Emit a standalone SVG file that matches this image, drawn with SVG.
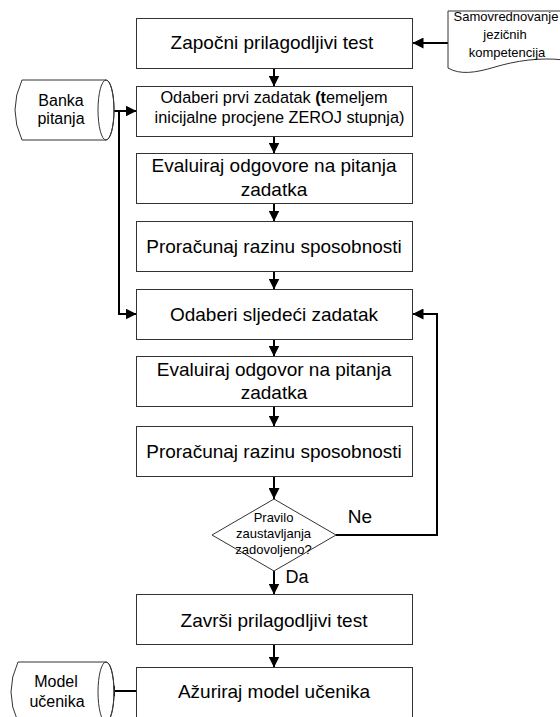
<svg xmlns="http://www.w3.org/2000/svg" width="560" height="717" viewBox="0 0 560 717">
<defs>
<style>
.box{fill:#fff;stroke:#333;stroke-width:1}
.t{font-family:"Liberation Sans",Arial,sans-serif;fill:#000;text-anchor:middle}
.big{font-size:19px}
.mid{font-size:16.3px}
.sm{font-size:16px}
.xs{font-size:13px}
.con{fill:none;stroke:#000;stroke-width:2}
</style>
<marker id="ah" viewBox="0 0 10 10" refX="10" refY="5" markerWidth="11" markerHeight="11" markerUnits="userSpaceOnUse" orient="auto">
<path d="M0,0 L10,5 L0,10 Z" fill="#000"/>
</marker>
</defs>
<rect width="560" height="717" fill="#fff"/>

<g id="connectors">
<line class="con" x1="274" y1="68.5" x2="274" y2="86.5" marker-end="url(#ah)"/>
<line class="con" x1="274" y1="136.5" x2="274" y2="153.5" marker-end="url(#ah)"/>
<line class="con" x1="274" y1="203.5" x2="274" y2="221.5" marker-end="url(#ah)"/>
<line class="con" x1="274" y1="271.5" x2="274" y2="289.5" marker-end="url(#ah)"/>
<line class="con" x1="274" y1="339.5" x2="274" y2="356.5" marker-end="url(#ah)"/>
<line class="con" x1="274" y1="406.5" x2="274" y2="426.5" marker-end="url(#ah)"/>
<line class="con" x1="274" y1="476.5" x2="274" y2="499" marker-end="url(#ah)"/>
<line class="con" x1="274" y1="571" x2="274" y2="594.5" marker-end="url(#ah)"/>
<line class="con" x1="274" y1="644.5" x2="274" y2="667.5" marker-end="url(#ah)"/>
<line class="con" x1="448" y1="43" x2="412.5" y2="43" marker-end="url(#ah)"/>
<line class="con" x1="105" y1="111" x2="136.5" y2="111" marker-end="url(#ah)"/>
<polyline class="con" points="119,111 119,314 136.5,314" marker-end="url(#ah)"/>
<polyline class="con" points="336,535 437,535 437,314 412.5,314" marker-end="url(#ah)"/>
<line class="con" x1="136.5" y1="691" x2="104" y2="691" marker-end="url(#ah)"/>
</g>

<g id="n-samovrednovanje">
<path class="box" d="M448,11 H564 V60 C540,57 515,61 495,67 C475,73 460,75 448,68 Z"/>
<text class="t xs" x="506" y="20.5">Samovrednovanje</text>
<text class="t xs" x="505" y="38.5">jezičnih</text>
<text class="t xs" x="507" y="56.5">kompetencija</text>
</g>

<g id="n-banka">
<path class="box" d="M22,80 L106,80 A8,30 0 0 1 106,140 L22,140 Q8,110 22,80 Z"/>
<ellipse cx="106" cy="110" rx="8" ry="30" fill="none" stroke="#333" stroke-width="1"/>
<text class="t sm" x="61" y="106">Banka</text>
<text class="t sm" x="61" y="123.5">pitanja</text>
</g>

<g id="n-model">
<path class="box" d="M18,662 L106,662 A8,30 0 0 1 106,722 L18,722 Q4,692 18,662 Z"/>
<ellipse cx="106" cy="692" rx="8" ry="30" fill="none" stroke="#333" stroke-width="1"/>
<text class="t sm" x="56" y="687">Model</text>
<text class="t sm" x="57" y="706.5">učenika</text>
</g>

<g id="n-zapocni">
<rect class="box" x="136.5" y="18.5" width="276" height="50"/>
<text class="t big" x="272" y="49">Započni prilagodljivi test</text>
</g>

<g id="n-odaberi-prvi">
<rect class="box" x="136.5" y="86.5" width="276" height="50"/>
<text class="t mid" x="274" y="103">Odaberi prvi zadatak <tspan font-weight="bold">(t</tspan>emeljem</text>
<text class="t mid" x="279.5" y="123">inicijalne procjene ZEROJ stupnja)</text>
</g>

<g id="n-evaluiraj1">
<rect class="box" x="136.5" y="153.5" width="276" height="50"/>
<text class="t big" x="274" y="172.3">Evaluiraj odgovore na pitanja</text>
<text class="t big" x="274" y="195.8">zadatka</text>
</g>

<g id="n-proracunaj1">
<rect class="box" x="136.5" y="221.5" width="276" height="50"/>
<text class="t big" x="274" y="252.7">Proračunaj razinu sposobnosti</text>
</g>

<g id="n-odaberi-sljedeci">
<rect class="box" x="136.5" y="289.5" width="276" height="50"/>
<text class="t big" x="274" y="320.7">Odaberi sljedeći zadatak</text>
</g>

<g id="n-evaluiraj2">
<rect class="box" x="136.5" y="356.5" width="276" height="50"/>
<text class="t big" x="274" y="375.6">Evaluiraj odgovor na pitanja</text>
<text class="t big" x="274" y="399.1">zadatka</text>
</g>

<g id="n-proracunaj2">
<rect class="box" x="136.5" y="426.5" width="276" height="50"/>
<text class="t big" x="274" y="458.3">Proračunaj razinu sposobnosti</text>
</g>

<g id="n-pravilo">
<path class="box" d="M274,499 L336,535 L274,571 L212,535 Z"/>
<text class="t xs" x="273.5" y="521.5">Pravilo</text>
<text class="t xs" x="273.5" y="537.5">zaustavljanja</text>
<text class="t xs" x="273.5" y="553.5">zadovoljeno?</text>
</g>

<text class="t big" x="360" y="523">Ne</text>
<text class="t" font-size="18" x="297" y="583">Da</text>

<g id="n-zavrsi">
<rect class="box" x="136.5" y="594.5" width="276" height="50"/>
<text class="t big" x="274" y="626.7">Završi prilagodljivi test</text>
</g>

<g id="n-azuriraj">
<rect class="box" x="136.5" y="667.5" width="276" height="60"/>
<text class="t big" x="274" y="698">Ažuriraj model učenika</text>
</g>
</svg>
